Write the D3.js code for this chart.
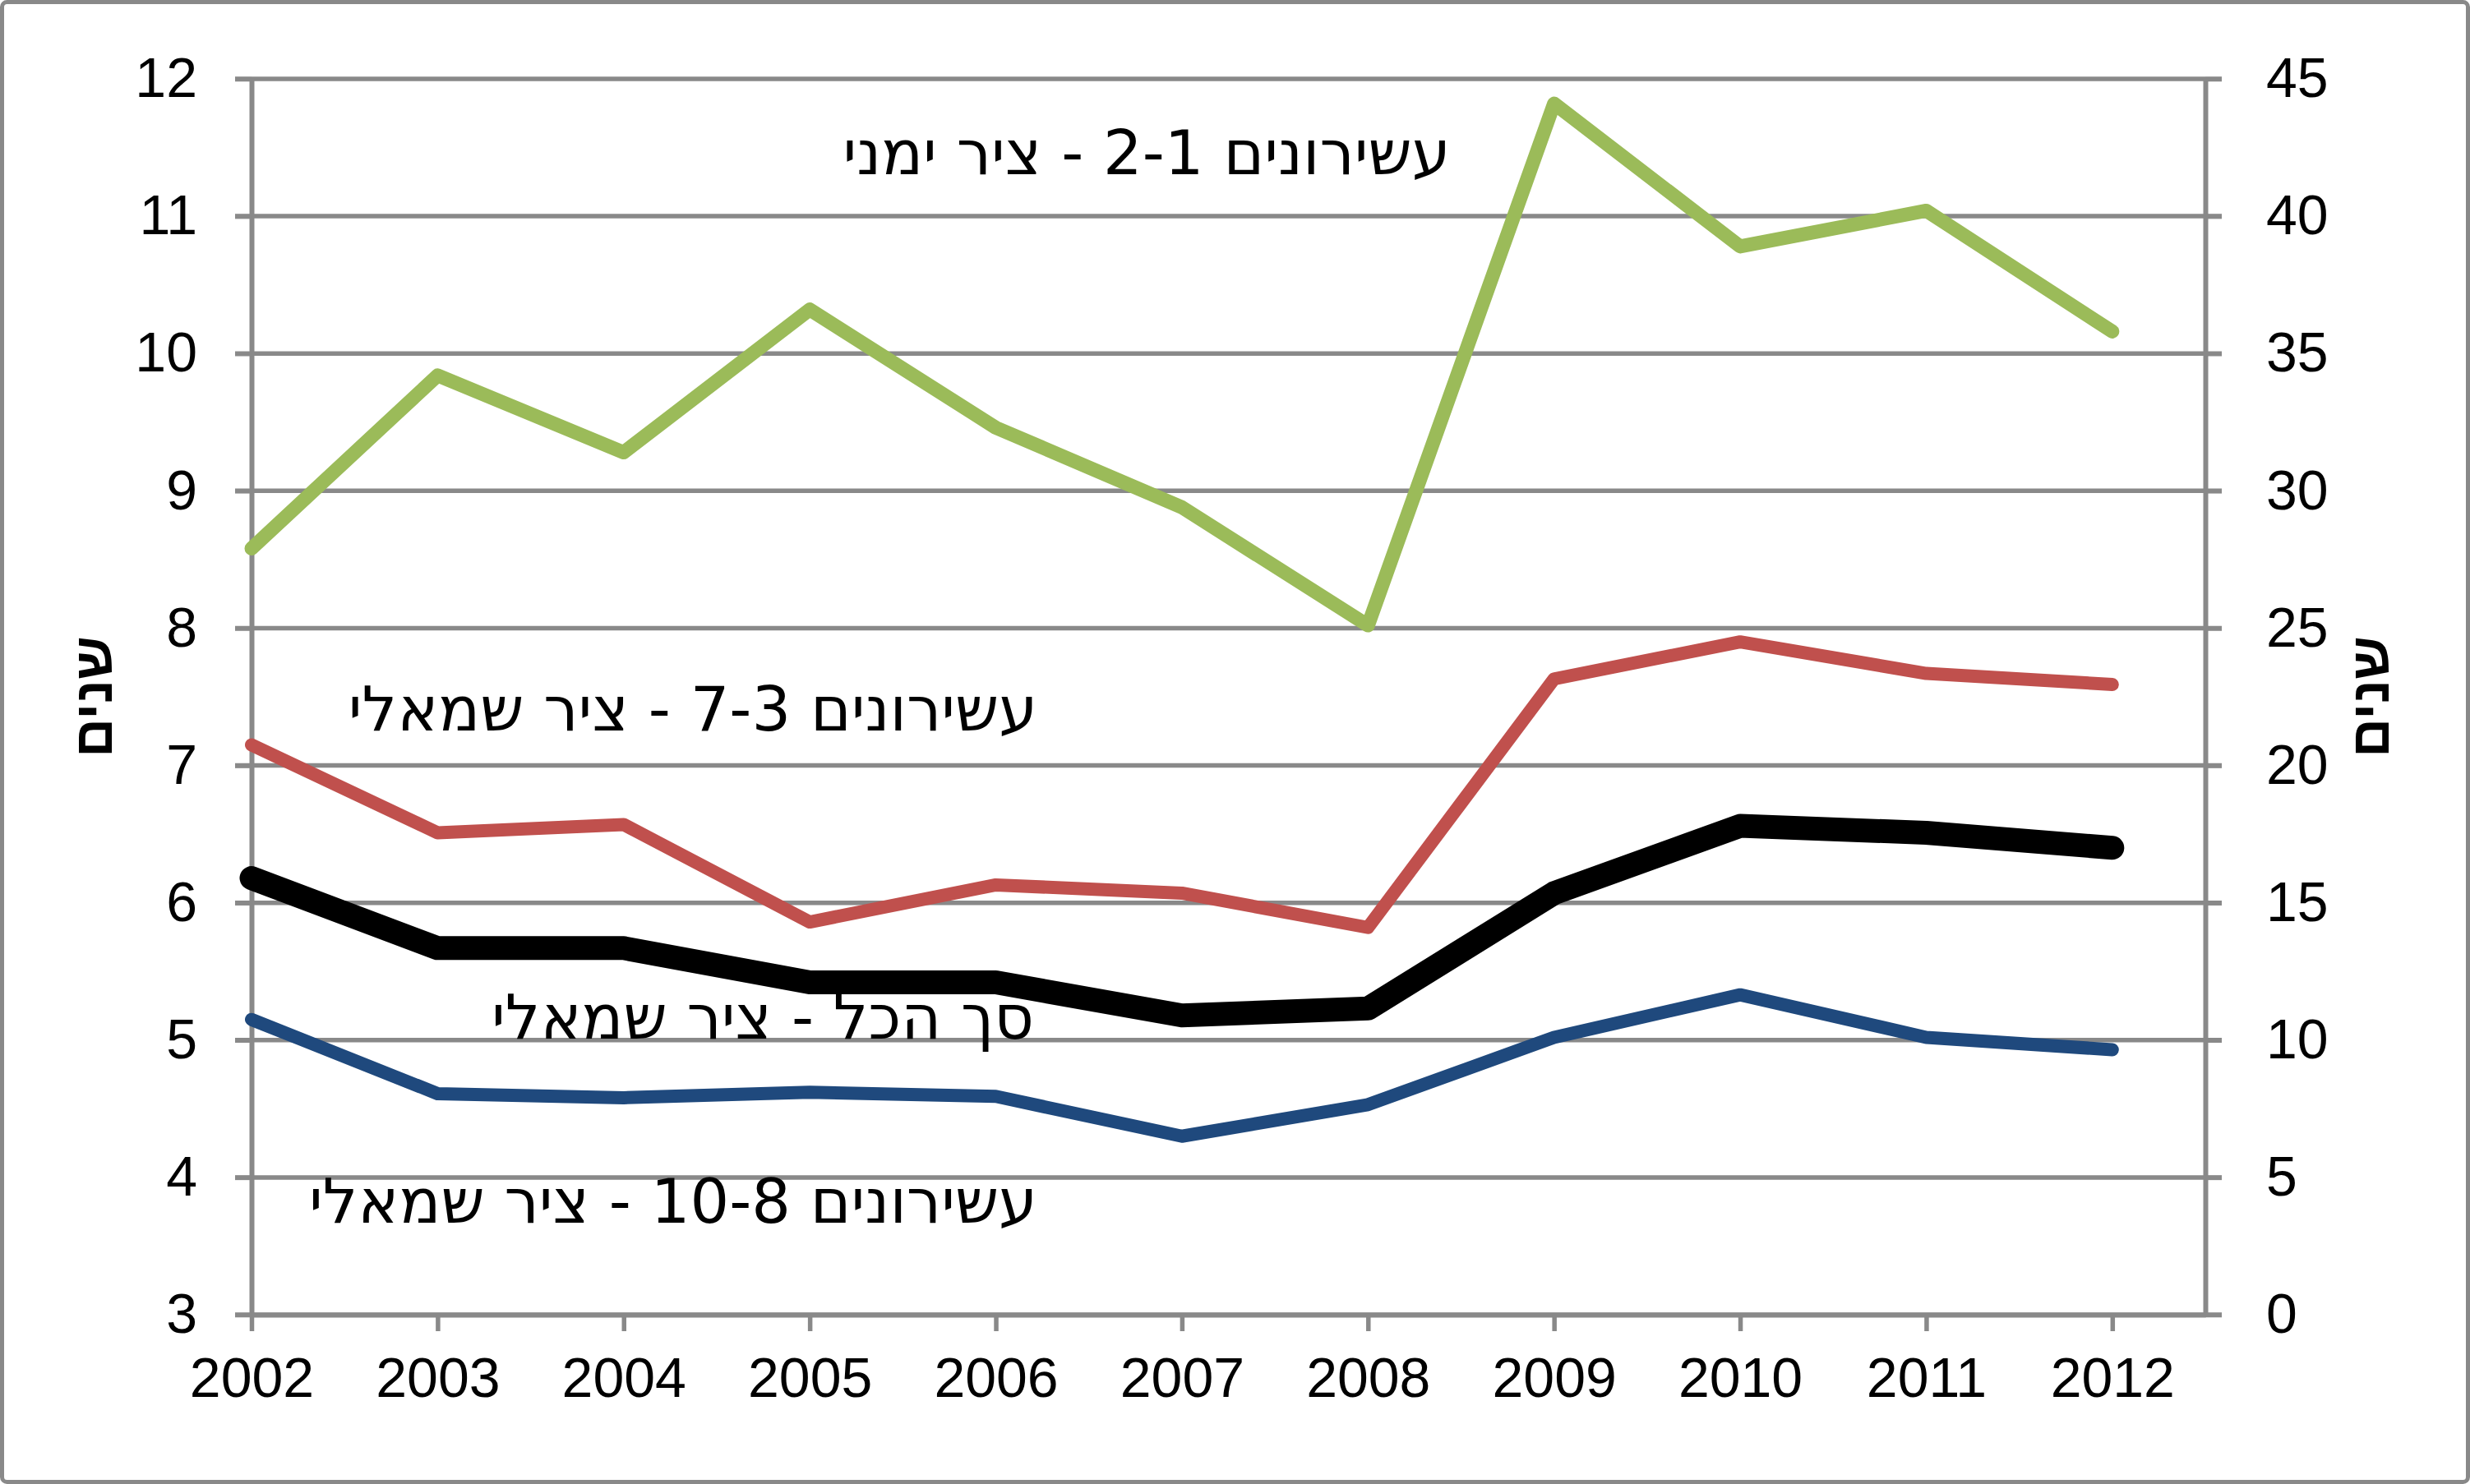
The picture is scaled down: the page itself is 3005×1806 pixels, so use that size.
<!DOCTYPE html>
<html>
<head>
<meta charset="utf-8">
<script src="https://cdn.jsdelivr.net/npm/d3@7"></script>
<style>
  body { margin: 0; background: #fff; }
  text { font-family: "Liberation Sans", Arial, sans-serif; fill: #000; }
</style>
</head>
<body>
<script>
// Chart data
var years = [2002, 2003, 2004, 2005, 2006, 2007, 2008, 2009, 2010, 2011, 2012];
// deciles 1-2, right axis
var dec12 = [27.9, 34.2, 31.4, 36.6, 32.3, 29.4, 25.1, 44.1, 38.9, 40.2, 35.8];
// deciles 3-7, left axis
var dec37 = [7.15, 6.51, 6.57, 5.86, 6.13, 6.07, 5.82, 7.63, 7.90, 7.67, 7.59];
// total, left axis
var total = [6.18, 5.67, 5.67, 5.42, 5.42, 5.18, 5.23, 6.07, 6.56, 6.51, 6.40];
// deciles 8-10, left axis
var dec810 = [5.15, 4.61, 4.58, 4.62, 4.59, 4.30, 4.53, 5.02, 5.33, 5.02, 4.93];

var leftTicks = [3, 4, 5, 6, 7, 8, 9, 10, 11, 12];
var rightTicks = [0, 5, 10, 15, 20, 25, 30, 35, 40, 45];

var labels = [
  { text: "עשירונים 2-1 - ציר ימני", x: 1395, y: 212 },
  { text: "עשירונים 7-3 - ציר שמאלי", x: 843, y: 889 },
  { text: "סך הכל - ציר שמאלי", x: 928, y: 1264 },
  { text: "עשירונים 10-8 - ציר שמאלי", x: 819, y: 1488 }
];

var width = 3005, height = 1806;
var gray = "#898989";
var plotL = 306, plotR = 2683, plotT = 96, plotB = 1600;

var svg = d3.select("body").append("svg")
  .attr("width", width)
  .attr("height", height);

// outer frame
svg.append("rect")
  .attr("x", 2.5).attr("y", 2.5)
  .attr("width", width - 5).attr("height", height - 5)
  .attr("rx", 6)
  .attr("fill", "#fff")
  .attr("stroke", gray)
  .attr("stroke-width", 5);

// scales
var x = d3.scaleLinear().domain([2002, 2012.5]).range([plotL, plotR]);
var yL = d3.scaleLinear().domain([3, 12]).range([plotB, plotT]);
var yR = d3.scaleLinear().domain([0, 45]).range([plotB, plotT]);

// gridlines (they run through the outer tick marks on both sides)
svg.append("g").selectAll("line")
  .data(leftTicks)
  .enter().append("line")
  .attr("x1", plotL - 20).attr("x2", plotR + 20)
  .attr("y1", function (d) { return yL(d); })
  .attr("y2", function (d) { return yL(d); })
  .attr("stroke", gray)
  .attr("stroke-width", 5.5);

// left axis
var gLeft = svg.append("g")
  .attr("transform", "translate(" + plotL + ",0)")
  .call(d3.axisLeft(yL).tickValues(leftTicks).tickSize(20).tickSizeOuter(0).tickPadding(46));

// right axis
var gRight = svg.append("g")
  .attr("transform", "translate(" + plotR + ",0)")
  .call(d3.axisRight(yR).tickValues(rightTicks).tickSize(20).tickSizeOuter(0).tickPadding(54));

// bottom axis
var gBottom = svg.append("g")
  .attr("transform", "translate(0," + plotB + ")")
  .call(d3.axisBottom(x).tickValues(years).tickFormat(d3.format("d"))
    .tickSize(20).tickSizeOuter(0).tickPadding(32));

[gLeft, gRight, gBottom].forEach(function (g) {
  g.select(".domain").attr("stroke", gray).attr("stroke-width", 6);
  g.selectAll(".tick line").attr("stroke", gray).attr("stroke-width", 5.5);
  g.selectAll(".tick text")
    .attr("fill", "#000")
    .style("font-family", "'Liberation Sans', Arial, sans-serif")
    .style("font-size", "68px");
});
gRight.selectAll(".tick text").attr("text-anchor", "start");
gBottom.selectAll(".tick text").attr("dy", "0.71em");

// lines
var lineL = d3.line()
  .x(function (d, i) { return x(years[i]); })
  .y(function (d) { return yL(d); });
var lineR = d3.line()
  .x(function (d, i) { return x(years[i]); })
  .y(function (d) { return yR(d); });

var series = [
  { values: dec810, gen: lineL, color: "#1F497D", w: 16 },
  { values: dec37, gen: lineL, color: "#C0504D", w: 16 },
  { values: total, gen: lineL, color: "#000000", w: 29 },
  { values: dec12, gen: lineR, color: "#9BBB59", w: 17 }
];

svg.append("g").selectAll("path")
  .data(series)
  .enter().append("path")
  .attr("d", function (s) { return s.gen(s.values); })
  .attr("fill", "none")
  .attr("stroke", function (s) { return s.color; })
  .attr("stroke-width", function (s) { return s.w; })
  .attr("stroke-linecap", "round")
  .attr("stroke-linejoin", "round");

// in-chart labels (Hebrew, right to left)
svg.append("g").selectAll("text")
  .data(labels)
  .enter().append("text")
  .attr("x", function (d) { return d.x; })
  .attr("y", function (d) { return d.y; })
  .attr("direction", "rtl")
  .attr("text-anchor", "middle")
  .style("font-family", "'DejaVu Sans', sans-serif")
  .style("font-size", "75px")
  .text(function (d) { return d.text; });

// axis titles
[113, 2883].forEach(function (cx) {
  svg.append("text")
    .attr("transform", "translate(" + cx + "," + (plotT + plotB) / 2 + ") rotate(-90)")
    .attr("direction", "rtl")
    .attr("text-anchor", "middle")
    .attr("dy", "0.35em")
    .style("font-size", "66px")
    .style("font-weight", "bold")
    .text("שנים");
});
</script>
</body>
</html>
